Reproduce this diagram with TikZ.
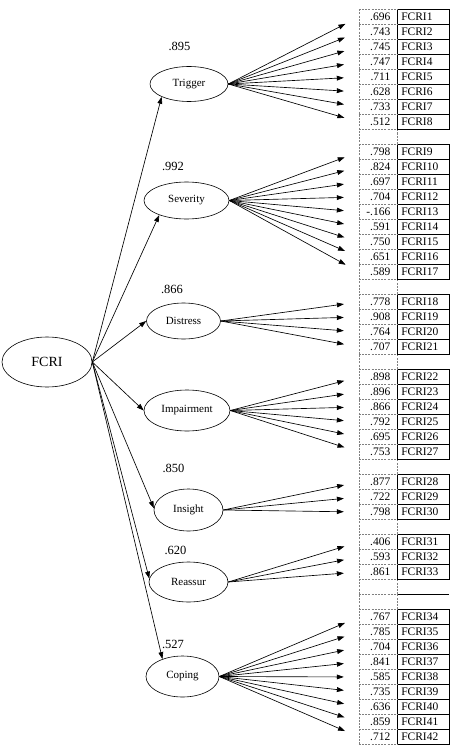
\documentclass[tikz,border=0pt]{standalone}
\usepackage{fontspec}
\setmainfont{Liberation Serif}
\usetikzlibrary{shapes.geometric, arrows.meta, positioning}
\tikzset{
  % Latent variable (width, height)
  latent/.style 2 args={
    ellipse, draw, line width=0.6pt, minimum width=#1, minimum height=#2,
    inner sep=0pt, font=\fontsize{11}{13}\selectfont
  },
  semarrow/.style={-{Triangle[length=7pt, width=4.8pt]}, line width=0.65pt},
  loadlabel/.style={font=\fontsize{12.5}{14}\selectfont, inner sep=0pt},
  % Indicator table
  valbox/.style={
    minimum width=38.5pt, minimum height=15pt, inner sep=0pt,
    text width=24pt, align=right, font=\fontsize{11.5}{13}\selectfont
  },
  itembox/.style={
    draw, line width=0.7pt, minimum width=51.5pt, minimum height=15pt, inner sep=0pt,
    text width=44pt, align=left, font=\fontsize{11.5}{13}\selectfont
  },
  gridline/.style={gray, line width=0.5pt, dash pattern=on 2pt off 1.2pt}
}
\begin{document}
\begin{tikzpicture}[x=1pt, y=-1pt]
  \useasboundingbox (0,0) rectangle (454,749);

  % Second-order factor
  \node[latent={90pt}{50pt}, font=\fontsize{14}{16}\selectfont] (fcri) at (47,362) {FCRI};

  % First-order factors
  \node[latent={78pt}{35pt}] (trigger) at (189,84) {Trigger};
  \node[latent={85pt}{37pt}] (severity) at (186.5,200.5) {Severity};
  \node[latent={74pt}{36pt}] (distress) at (183.5,321) {Distress};
  \node[latent={86pt}{41pt}] (impair) at (187,410.5) {Impairment};
  \node[latent={69pt}{42pt}] (insight) at (188.5,510) {Insight};
  \node[latent={79pt}{40pt}] (reassur) at (188.5,582) {Reassur};
  \node[latent={73pt}{41pt}] (coping) at (182.5,676.5) {Coping};

  % Second-order loadings
  \node[loadlabel] (trigger-w) at (179.5,46.5) {.895};
  \node[loadlabel] (severity-w) at (173,166) {.992};
  \node[loadlabel] (distress-w) at (172,289) {.866};
  \node[loadlabel] (insight-w) at (173.5,468) {.850};
  \node[loadlabel] (reassur-w) at (175.5,550) {.620};
  \node[loadlabel] (coping-w) at (173,644) {.527};

  % Empty rows
  \foreach \row in {8,18,23,30,34,38,39} {
    \node[valbox] (g\row) at (378.25,17+15*\row) {};
    \draw[gridline] (g\row.north west) -- (g\row.north east);
    \draw[gridline] (g\row.north east) -- (g\row.south east);
  }
  \draw[line width=0.7pt] (g38.south east) -- ++(51.5,0);

  % Indicator rows
  \foreach \row/\item/\val in {0/1/.696, 1/2/.743, 2/3/.745, 3/4/.747, 4/5/.711, 5/6/.628,
      6/7/.733, 7/8/.512, 9/9/.798, 10/10/.824, 11/11/.697, 12/12/.704, 13/13/-.166,
      14/14/.591, 15/15/.750, 16/16/.651, 17/17/.589, 19/18/.778, 20/19/.908, 21/20/.764,
      22/21/.707, 24/22/.898, 25/23/.896, 26/24/.866, 27/25/.792, 28/26/.695, 29/27/.753,
      31/28/.877, 32/29/.722, 33/30/.798, 35/31/.406, 36/32/.593, 37/33/.861,
      40/34/.767, 41/35/.785, 42/36/.704, 43/37/.841, 44/38/.585, 45/39/.735,
      46/40/.636, 47/41/.859, 48/42/.712} {
    \node[valbox] (v\item) at (378.25,17+15*\row) {\val};
    \node[itembox] (i\item) at (423.25,17+15*\row) {FCRI\item};
    \draw[gridline] (v\item.north west) -- (v\item.north east);
  }
  \draw[gridline] (v42.south west) -- (v42.south east);
  \draw[gridline] (v1.north west) -- (v42.south west);

  % Factor to factor paths
  \draw[semarrow] (fcri.east) -- (trigger.205);
  \draw[semarrow] (fcri.east) -- (severity.208);
  \draw[semarrow] (fcri.east) -- (distress.west);
  \draw[semarrow] (fcri.east) -- (impair.west);
  \draw[semarrow] (fcri.east) -- (insight.177);
  \draw[semarrow] (fcri.east) -- (reassur.175);
  \draw[semarrow] (fcri.east) -- (coping.139);

  % Factor to indicator paths
  \foreach \f/\first/\last in {trigger/1/8, severity/9/17, distress/18/21, impair/22/27,
      insight/28/30, reassur/31/33, coping/34/42}
    \foreach \item in {\first,...,\last}
      \draw[semarrow, shorten >=15pt] (\f.east) -- (v\item.west);
\end{tikzpicture}
\end{document}
